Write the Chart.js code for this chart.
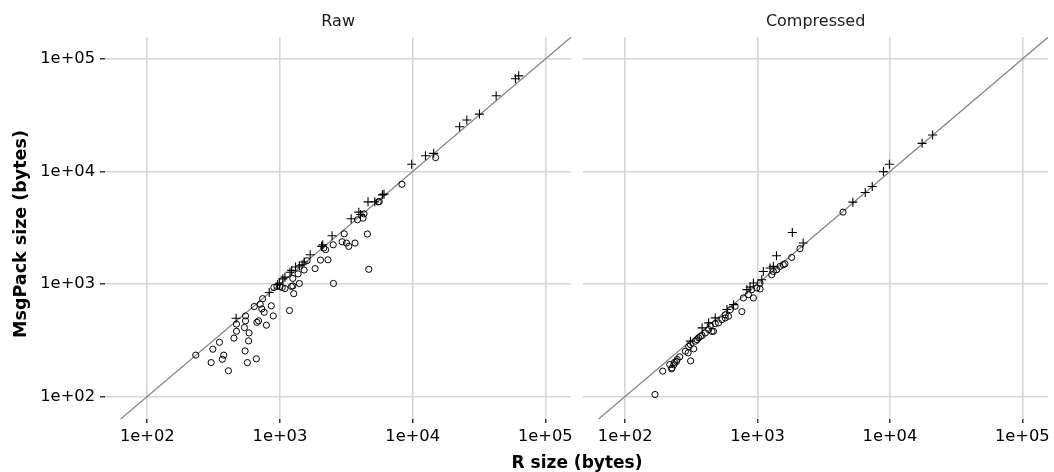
<!DOCTYPE html>
<html>
<head>
<meta charset="utf-8">
<title>Raw vs Compressed</title>
<script src="https://cdn.jsdelivr.net/npm/chart.js@4.4.1/dist/chart.umd.min.js"></script>
<style>
  html, body { margin: 0; padding: 0; background: #fff; }
  #wrap { position: relative; width: 1054px; height: 472px; overflow: hidden; font-family: "DejaVu Sans", sans-serif; }
  #raw  { position: absolute; left: 0; top: 0; }
  #comp { position: absolute; left: 577px; top: 0; }
  #xtitle { position: absolute; left: 0; top: 452px; width: 1154px; text-align: center;
            font-size: 17px; font-weight: bold; line-height: 20px; color: #000; }
  #ytitle { position: absolute; left: 20px; top: 234px; width: 300px; margin-left: -150px; margin-top: -10px;
            text-align: center; font-size: 17.5px; font-weight: bold; line-height: 20px; color: #000;
            transform: rotate(-90deg); white-space: nowrap; }
</style>
</head>
<body>
<div id="wrap">
  <canvas id="raw" width="577" height="472"></canvas>
  <canvas id="comp" width="477" height="472"></canvas>
  <div id="xtitle">R size (bytes)</div>
  <div id="ytitle">MsgPack size (bytes)</div>
</div>
<script>
// axis ticks
var tickValues = [100, 1000, 10000, 100000];
var tickLabels = ['1e+02', '1e+03', '1e+04', '1e+05'];
var xRange = [48, 157000];
var yRange = [63, 157000];
var identityLine = [10, 1000000];   // y = x reference

// Raw panel (bytes)
var rawCircleR = [8300, 5500, 5600, 4300, 3840, 4230, 4560, 3050, 2940, 3170, 3300, 3680, 4670,
  2520, 2210, 2140, 2020, 2300, 1840, 1600, 1520, 1370, 1250, 1400, 2530, 1220, 1250, 1090, 1270,
  1180, 950, 900, 740, 710, 640, 860, 730, 760, 890, 790, 550, 550, 470, 540, 470, 585, 670, 690,
  450, 580, 350, 312, 546, 232, 377, 368, 303, 568, 663, 409, 14900, 1000, 1040];
var rawCircleMsgPack = [7700, 5370, 5400, 4200, 3720, 3850, 2780, 2790, 2370, 2310, 2160, 2310, 1350,
  2230, 2020, 2090, 1630, 1640, 1370, 1610, 1330, 1230, 1120, 1010, 1010, 950, 960, 910, 820,
  580, 950, 930, 740, 660, 630, 640, 600, 560, 520, 430, 520, 470, 440, 410, 380, 367, 456, 470,
  330, 312, 303, 263, 254, 233, 233, 214, 200, 200, 216, 169, 13300, 950, 930];
var rawPlusR = [5920, 6080, 4610, 5180, 3930, 4050, 3440, 2470, 2100, 2060, 1690, 1520, 1470, 1400,
  1310, 1225, 1190, 1090, 1050, 990, 960, 830, 467, 9830, 12500, 14400, 22600, 25600, 31900, 42600,
  59500, 63000];
var rawPlusMsgPack = [6200, 6290, 5370, 5370, 4350, 4150, 3800, 2680, 2230, 2160, 1820, 1570, 1480, 1450,
  1415, 1320, 1270, 1150, 1110, 1020, 990, 840, 495, 11600, 13800, 14500, 25000, 28700, 32400, 47200,
  66700, 70900];

// Compressed panel (bytes)
var compCircleR = [168, 192, 224, 217, 236, 247, 258, 312, 285, 299, 329, 311, 339, 359, 381, 403, 427,
  465, 440, 479, 507, 538, 570, 603, 677, 761, 782, 853, 930, 904, 986, 1044, 1279, 1315, 1394, 1476,
  1563, 1810, 2090, 4420, 226, 233, 244, 302, 349, 370, 452, 570, 621, 1044, 1610];
var compCircleMsgPack = [104, 168, 176, 192, 201, 213, 225, 207, 252, 244, 265, 289, 310, 332, 348, 367, 393,
  380, 427, 444, 451, 482, 499, 516, 633, 568, 751, 804, 751, 890, 922, 903, 1209, 1292, 1339, 1433,
  1484, 1720, 2060, 4350, 179, 191, 205, 278, 319, 341, 378, 532, 590, 1019, 1510];
var compPlusR = [1830, 1390, 2210, 1105, 1242, 1315, 830, 878, 587, 658, 479, 427, 381, 311, 5250, 6510,
  7350, 8930, 9910, 17500, 21000, 1076, 930];
var compPlusMsgPack = [2870, 1780, 2310, 1292, 1386, 1433, 890, 940, 592, 655, 499, 451, 407, 310, 5340, 6500,
  7350, 9980, 11600, 17800, 21100, 1090, 1019];

var FONT = 'DejaVu Sans';

function pairs(xs, ys) {
  return xs.map(function (x, i) { return { x: x, y: ys[i] }; });
}

function setTicks(scale) {
  scale.ticks = tickValues.map(function (v) { return { value: v }; });
}

function tickLabel(v) {
  var i = tickValues.indexOf(v);
  return i >= 0 ? tickLabels[i] : '';
}

function panel(id, strip, circles, pluses, showY, pad) {
  var diag = identityLine.map(function (v) { return { x: v, y: v }; });
  return new Chart(document.getElementById(id), {
    type: 'scatter',
    data: {
      datasets: [
        { data: diag, showLine: true, borderColor: '#808080', borderWidth: 1.2,
          pointRadius: 0, order: 3 },
        { data: circles, pointStyle: 'circle', pointRadius: 3.1, borderColor: '#000',
          backgroundColor: 'rgba(0,0,0,0)', borderWidth: 1, order: 2 },
        { data: pluses, pointStyle: 'cross', pointRadius: 4.5, borderColor: '#000',
          borderWidth: 1.1, order: 1 }
      ]
    },
    options: {
      responsive: false,
      animation: false,
      events: [],
      layout: { padding: pad },
      plugins: {
        legend: { display: false },
        tooltip: { enabled: false },
        title: { display: true, text: strip, fullSize: false, color: '#1a1a1a',
                 font: { family: FONT, size: 16, weight: 'normal', lineHeight: 1.1875 },
                 padding: { top: 12, bottom: 6 } }
      },
      scales: {
        x: {
          type: 'logarithmic', min: xRange[0], max: xRange[1],
          afterBuildTicks: setTicks,
          afterFit: function (s) { s.height = 53; },
          border: { display: false },
          grid: { color: '#d6d6d6', lineWidth: 1.6, tickColor: '#000', tickLength: 4, tickWidth: 1.2 },
          ticks: { callback: tickLabel, autoSkip: false, maxRotation: 0, padding: 4, color: '#000',
                   font: { family: FONT, size: 16.3 } }
        },
        y: {
          type: 'logarithmic', min: yRange[0], max: yRange[1],
          afterBuildTicks: setTicks,
          afterFit: function (s) { s.width = showY ? 105 : 0; },
          border: { display: false },
          grid: { color: '#d6d6d6', lineWidth: 1.6, tickColor: '#000', tickLength: 5, tickWidth: 1.2,
                  drawTicks: showY },
          ticks: { display: showY, callback: tickLabel, autoSkip: false, padding: 5, color: '#000',
                   font: { family: FONT, size: 16.3 } }
        }
      }
    }
  });
}

panel('raw', 'Raw', pairs(rawCircleR, rawCircleMsgPack), pairs(rawPlusR, rawPlusMsgPack),
      true, { left: 0, right: 5, top: 0, bottom: 0 });
panel('comp', 'Compressed', pairs(compCircleR, compCircleMsgPack), pairs(compPlusR, compPlusMsgPack),
      false, { left: 6, right: 4, top: 0, bottom: 0 });
</script>
</body>
</html>
